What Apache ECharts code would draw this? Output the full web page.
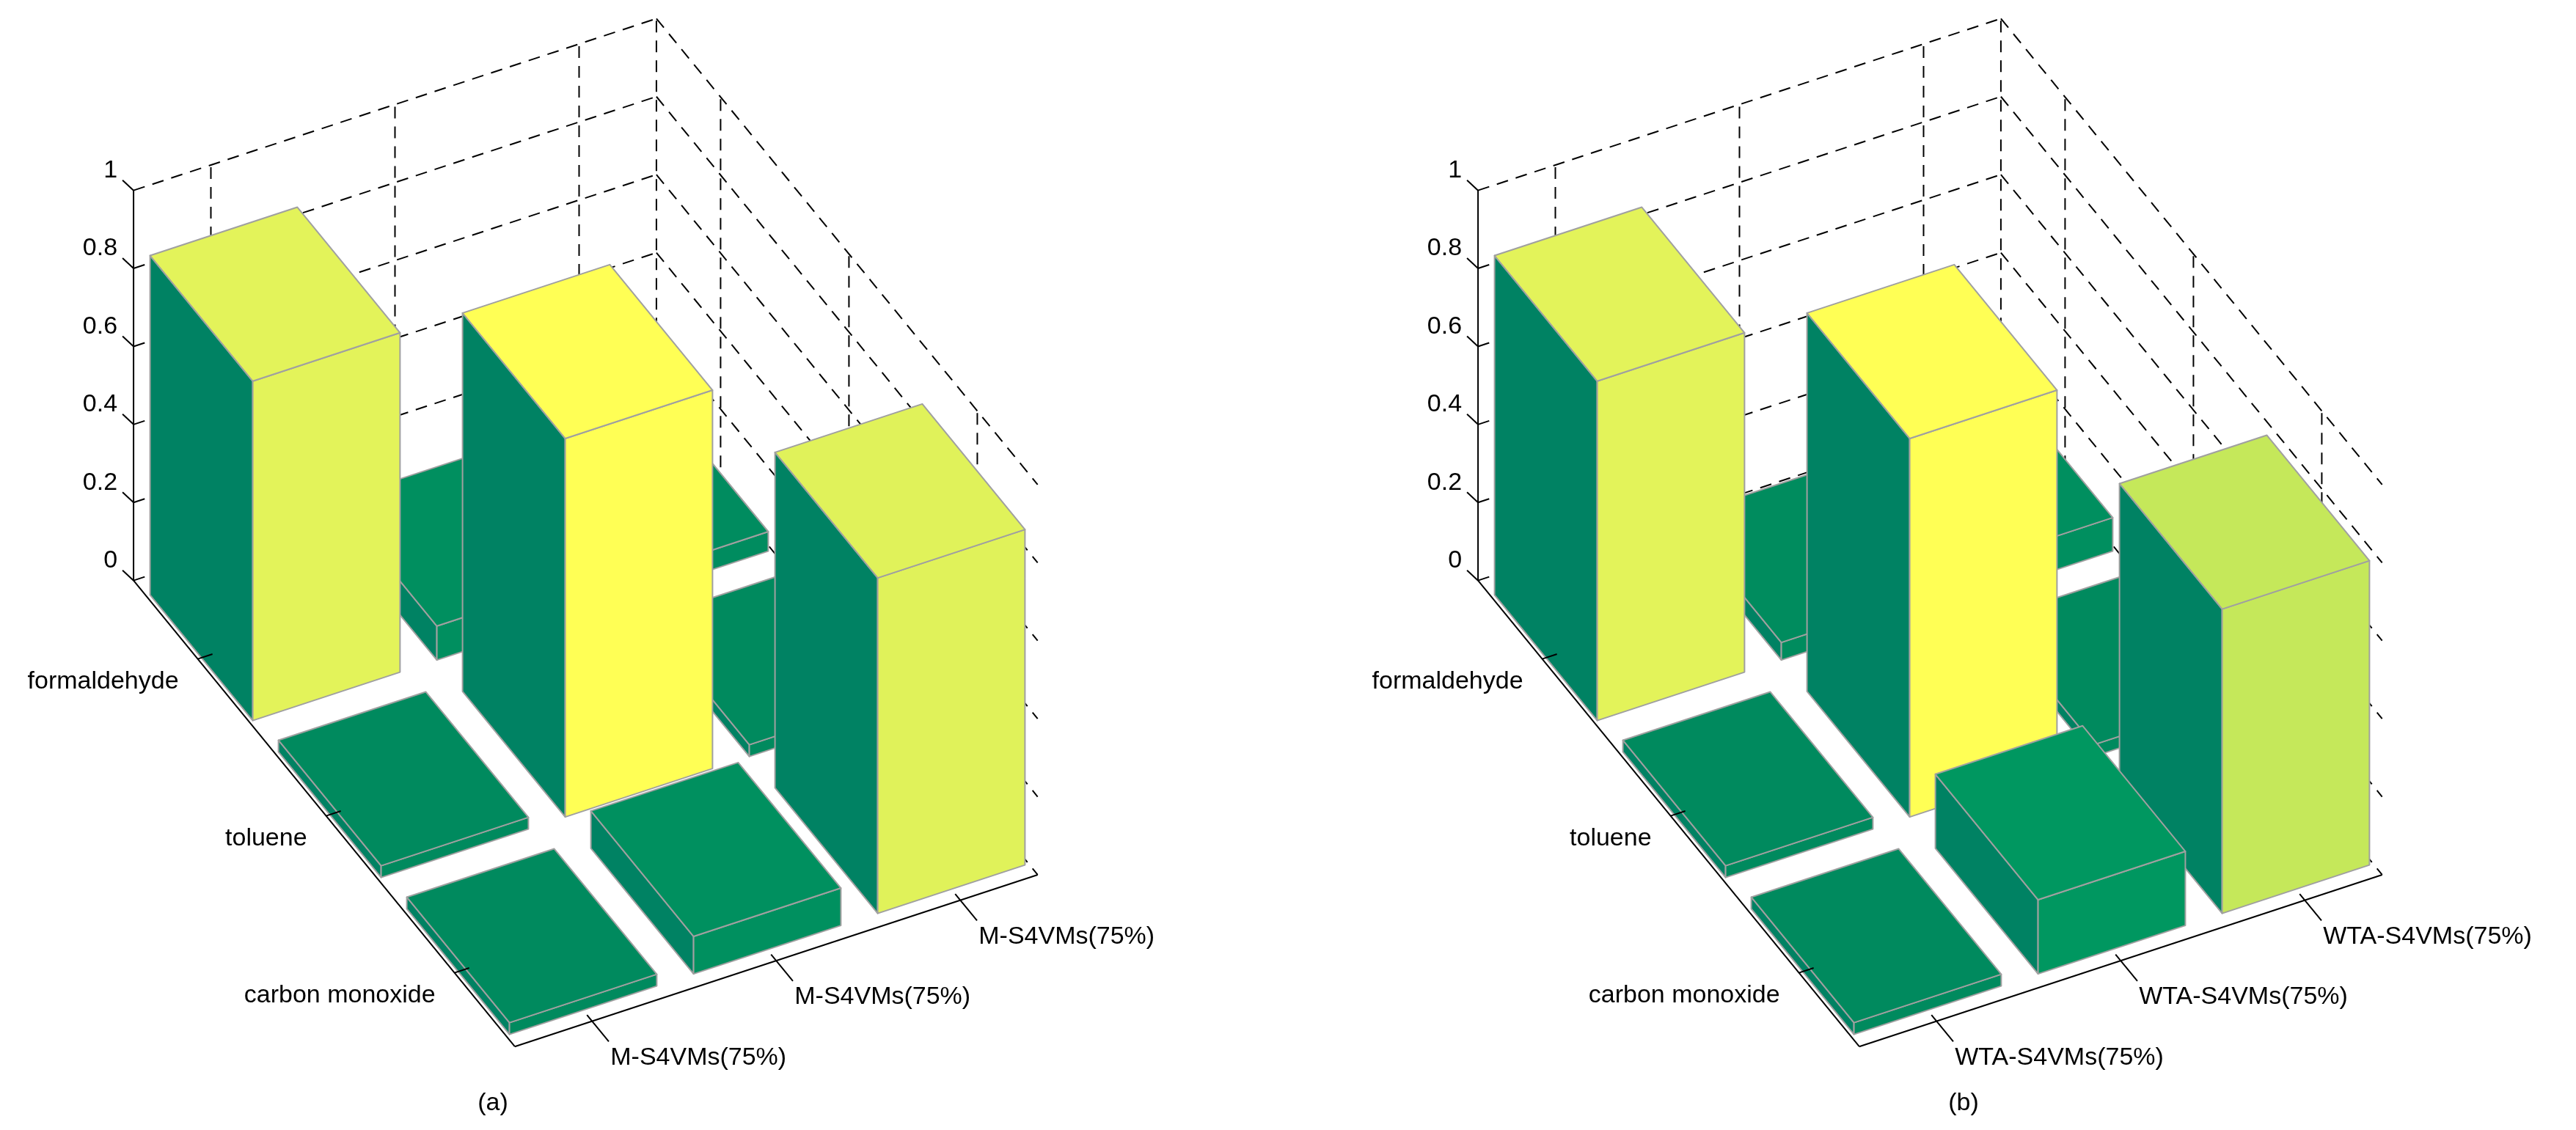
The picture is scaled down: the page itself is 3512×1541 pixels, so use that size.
<!DOCTYPE html>
<html><head><meta charset="utf-8">
<script src="https://cdn.jsdelivr.net/npm/echarts@6/dist/echarts.min.js"></script>
<style>html,body{margin:0;padding:0;background:#fff}#c{width:3512px;height:1541px}</style>
</head><body><div id="c"></div>
<script>
// ---- data ----
var rowLabels = ['formaldehyde', 'toluene', 'carbon monoxide'];
var colLabelsA = ['M-S4VMs(75%)', 'M-S4VMs(75%)', 'M-S4VMs(75%)'];
var colLabelsB = ['WTA-S4VMs(75%)', 'WTA-S4VMs(75%)', 'WTA-S4VMs(75%)'];
var zTicks = [0, 0.2, 0.4, 0.6, 0.8, 1];
var zTickLabels = ['0', '0.2', '0.4', '0.6', '0.8', '1'];
var valuesA = [[0.87, 0.087, 0.05], [0.03, 0.97, 0.03], [0.03, 0.096, 0.86]];
var valuesB = [[0.87, 0.045, 0.086], [0.03, 0.97, 0.03], [0.03, 0.19, 0.78]];
var panelTitles = ['(a)', '(b)'];

// ---- view (projection) ----
var OX = [0, 1833];
var CV = [251, -82.5], RV = [175, 214], ZV = 532, A0 = [375, 864];
var CMIN = -0.42, CMAX = 2.42, RMIN = -0.5, RMAX = 2.47;
function P(p, c, r, z) { return [OX[p] + A0[0] + CV[0]*c + RV[0]*r, A0[1] + CV[1]*c + RV[1]*r - ZV*z]; }
var stops = [[0,[0,136,94]],[0.2,[0,152,96]],[0.78,[197,232,90]],[0.86,[224,242,90]],[0.97,[255,255,85]],[1,[255,255,85]]];
function colorOf(v){
  for (var i=1;i<stops.length;i++){ if (v<=stops[i][0]){ var a=stops[i-1],b=stops[i],t=(v-a[0])/(b[0]-a[0]);
    var c=a[1].map(function(x,k){return Math.round(x+(b[1][k]-x)*t);}); return 'rgb('+c.join(',')+')'; } }
  return 'rgb(255,255,85)';
}
var LEFT = '#008263';

// bar data sorted back to front
var barData = [];
[valuesA, valuesB].forEach(function(vals, p){
  for (var r=0;r<3;r++) for (var c=0;c<3;c++) barData.push([p, r, c, vals[r][c]]);
});
barData.sort(function(a,b){ return (a[1]-a[2])-(b[1]-b[2]); });

var chart = echarts.init(document.getElementById('c'));
function poly(api, pts, fill){
  return {type:'polygon', shape:{points:pts.map(function(q){return api.coord(q);})},
    style:{fill:fill, stroke:'#a0a0a0', lineWidth:2, lineJoin:'round'}};
}
function line(api, a, b, dashed){
  var A=api.coord(a), B=api.coord(b);
  return {type:'line', shape:{x1:A[0],y1:A[1],x2:B[0],y2:B[1]},
    style:{stroke:'#000', lineWidth:2, lineDash: dashed?[16,11]:null}};
}
function text(api, pt, s, align, vAlign){
  var q=api.coord(pt);
  return {type:'text', x:q[0], y:q[1], style:{text:s, fill:'#000', font:'34px "Liberation Sans", Arial, sans-serif', textAlign:align, textVerticalAlign:vAlign||'middle'}};
}

chart.setOption({
  animation:false,
  grid:{left:0,right:0,top:0,bottom:0},
  xAxis:{type:'value',min:0,max:3512,show:false},
  yAxis:{type:'value',min:0,max:1541,inverse:true,show:false},
  series:[
    { // walls / grid
      type:'custom', z:1, data:[[0],[1]], silent:true,
      renderItem:function(params, api){
        var p=api.value(0), ch=[];
        zTicks.forEach(function(z){
          ch.push(line(api, P(p,CMIN,RMIN,z), P(p,CMAX,RMIN,z), true));
          ch.push(line(api, P(p,CMAX,RMIN,z), P(p,CMAX,RMAX,z), true));
        });
        [0,1,2].forEach(function(k){
          ch.push(line(api, P(p,k,RMIN,0), P(p,k,RMIN,1), true));
          ch.push(line(api, P(p,CMAX,k,0), P(p,CMAX,k,1), true));
        });
        ch.push(line(api, P(p,CMAX,RMIN,0), P(p,CMAX,RMIN,1), true));
        return {type:'group', children:ch};
      }
    },
    { // bars
      type:'custom', z:2, data:barData, silent:true,
      renderItem:function(params, api){
        var p=api.value(0), r=api.value(1), c=api.value(2), h=api.value(3);
        var c0=c-0.4,c1=c+0.4,r0=r-0.4,r1=r+0.4, col=colorOf(h);
        return {type:'group', children:[
          poly(api,[P(p,c0,r0,0),P(p,c0,r1,0),P(p,c0,r1,h),P(p,c0,r0,h)], LEFT),
          poly(api,[P(p,c0,r1,0),P(p,c1,r1,0),P(p,c1,r1,h),P(p,c0,r1,h)], col),
          poly(api,[P(p,c0,r0,h),P(p,c1,r0,h),P(p,c1,r1,h),P(p,c0,r1,h)], col)
        ]};
      }
    },
    { // axes, ticks, labels
      type:'custom', z:3, data:[[0],[1]], silent:true,
      renderItem:function(params, api){
        var p=api.value(0), ch=[], cl = p===0?colLabelsA:colLabelsB;
        ch.push(line(api, P(p,CMIN,RMIN,0), P(p,CMIN,RMIN,1)));
        ch.push(line(api, P(p,CMIN,RMIN,0), P(p,CMIN,RMAX,0)));
        ch.push(line(api, P(p,CMIN,RMAX,0), P(p,CMAX,RMAX,0)));
        zTicks.forEach(function(z,i){
          var a=P(p,CMIN,RMIN,z);
          ch.push(line(api, a, [a[0]-15,a[1]-14]));
          ch.push(text(api, [a[0]-22,a[1]-27], zTickLabels[i], 'right'));
        });
        rowLabels.forEach(function(s,k){
          var a=P(p,CMIN,k,0);
          ch.push(line(api, a, P(p,CMIN+0.08,k,0)));
          ch.push(text(api, [a[0]-26,a[1]+31], s, 'right'));
        });
        cl.forEach(function(s,k){
          var a=P(p,k,RMAX,0);
          ch.push(line(api, P(p,k,RMAX-0.04,0), P(p,k,RMAX+0.13,0)));
          ch.push(text(api, [a[0]+25,a[1]+50], s, 'left'));
        });
        ch.push(text(api, [p===0?672:2677, 1505], panelTitles[p], 'center'));
        return {type:'group', children:ch};
      }
    }
  ]
});
</script></body></html>
